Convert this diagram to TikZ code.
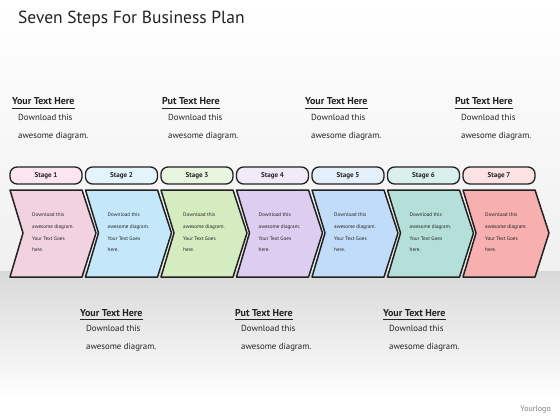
\documentclass[tikz,border=0pt]{standalone}
\usepackage{fontspec}
\setmainfont{PT Sans}
\usetikzlibrary{shapes.misc}
\definecolor{c1}{HTML}{F3D2E0}\definecolor{p1}{HTML}{FBE6EF}
\definecolor{c2}{HTML}{C4E8FA}\definecolor{p2}{HTML}{E4F4FC}
\definecolor{c3}{HTML}{D4ECBF}\definecolor{p3}{HTML}{E9F6DF}
\definecolor{c4}{HTML}{DCCDF1}\definecolor{p4}{HTML}{F1EAF9}
\definecolor{c5}{HTML}{C1DCF9}\definecolor{p5}{HTML}{E4EFFC}
\definecolor{c6}{HTML}{B4E0D9}\definecolor{p6}{HTML}{D9F0EC}
\definecolor{c7}{HTML}{F8AFAF}\definecolor{p7}{HTML}{FCE2E2}
\definecolor{ink}{HTML}{222222}
\tikzset{
  chev/.style={draw=ink, line width=1.5pt, line join=round},
  pill/.style={draw=ink, line width=1.3pt, rounded corners=7pt},
  stagelbl/.style={font=\fontsize{7}{8}\selectfont\bfseries, text=ink, anchor=center},
  chevtxt/.style={font=\fontsize{5.2}{11.7}\selectfont, text=ink, anchor=north west, align=left, inner sep=0pt},
  head/.style={font=\fontsize{10}{12}\selectfont\bfseries, text=ink, anchor=base west, inner sep=0pt},
  body/.style={font=\fontsize{8.8}{18}\selectfont, text=ink, anchor=north west, align=left, inner sep=0pt},
}
\begin{document}
\begin{tikzpicture}[x=1pt,y=-1pt]
\useasboundingbox (0,0) rectangle (560,420);
% background
\shade[top color=white, bottom color=white!94!black] (0,0) rectangle (560,271);
\shade[top color=white!85!black, bottom color=white] (0,271) rectangle (560,400);
\fill[white] (0,400) rectangle (560,420);
% title
\node[font=\fontsize{17.5}{19}\selectfont, text=ink, anchor=base west, inner sep=0pt] (title) at (18,24) {Seven Steps For Business Plan};
% top text blocks
\foreach \x/\t [count=\i] in {12/Your Text Here,162/Put Text Here,305/Your Text Here,455/Put Text Here}{
  \node[head] (th\i) at (\x,105) {\t};
  \draw[ink, line width=0.6pt] (th\i.south west)++(0,2.5) -- ([yshift=-2.5pt]th\i.south east);
  \node[body] (tb\i) at (\x+6,114) {Download this\\awesome diagram.};
}
% stages
\foreach \c/\p [count=\i] in {c1/p1,c2/p2,c3/p3,c4/p4,c5/p5,c6/p6,c7/p7}{
  \pgfmathsetmacro{\L}{10+75.5*(\i-1)}
  \filldraw[pill, fill=\p] (\L,167) rectangle (\L+72,184);
  \node[stagelbl] (s\i) at (\L+36,175.5) {Stage \i};
  \filldraw[chev, fill=\c] (\L,190) -- (\L+72,190) -- (\L+86,233) -- (\L+72,277) -- (\L,277) -- (\L+13,233) -- cycle;
  \node[chevtxt] (t\i) at (\L+22,213) {Download this\\awesome diagram.\\Your Text Goes\\here.};
}
% bottom text blocks
\foreach \x/\t [count=\i] in {80/Your Text Here,235/Put Text Here,383/Your Text Here}{
  \node[head] (bh\i) at (\x,316) {\t};
  \draw[ink, line width=0.6pt] (bh\i.south west)++(0,2.5) -- ([yshift=-2.5pt]bh\i.south east);
  \node[body] (bb\i) at (\x+6,325) {Download this\\awesome diagram.};
}
\node[font=\fontsize{8}{9}\selectfont, text=gray, anchor=base east, inner sep=0pt] (logo) at (551,411) {Yourlogo};
\end{tikzpicture}
\end{document}
